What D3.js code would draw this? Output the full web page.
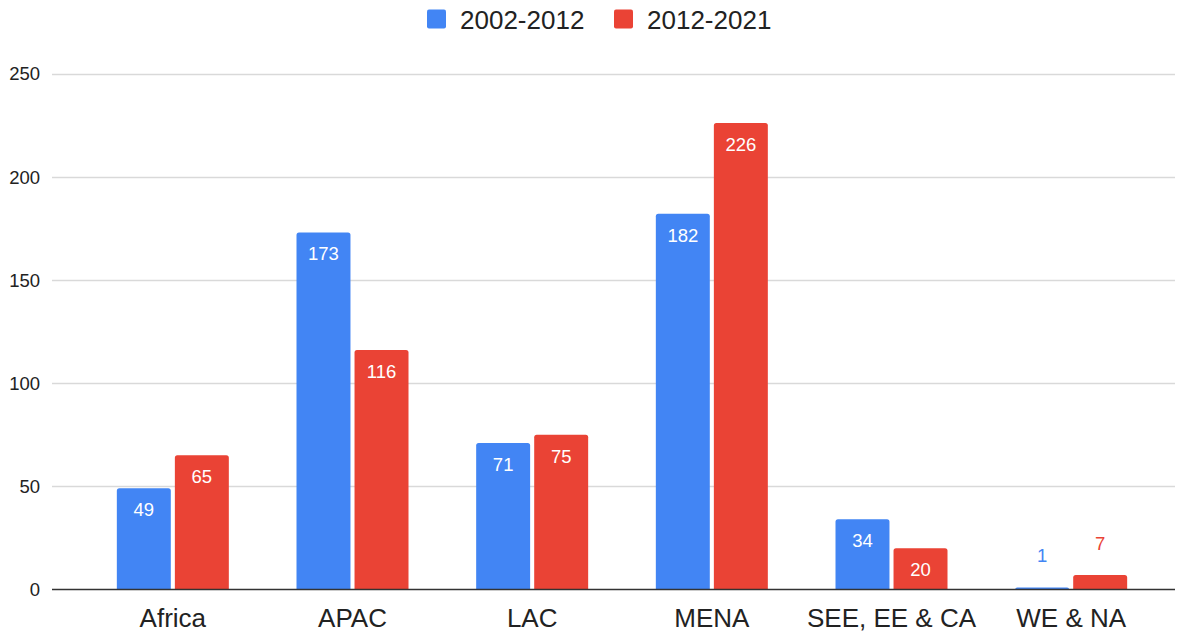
<!DOCTYPE html>
<html><head><meta charset="utf-8">
<script src="https://cdn.jsdelivr.net/npm/d3@7"></script>
<style>body{margin:0;background:#fff}svg{display:block}text{font-family:"Liberation Sans",Arial,sans-serif}</style>
</head><body><svg id="c" width="1189" height="635"></svg>
<script>
const categories = ["Africa","APAC","LAC","MENA","SEE, EE & CA","WE & NA"];
const seriesNames = ["2002-2012","2012-2021"];
const values2002_2012 = [49,173,71,182,34,1];
const values2012_2021 = [65,116,75,226,20,7];
const yTicks = [0,50,100,150,200,250];
const colors = ["#4285F4","#EA4335"];

const svg = d3.select("#c");
const y = d3.scaleLinear().domain([0,250]).range([589.5,73.5]);
const x0 = d3.scaleBand().domain(categories).range([83,1161]).paddingInner(0).paddingOuter(0);
const x1 = d3.scaleBand().domain(seriesNames).range([0,112]).paddingInner(0.07);
const groupOff = (x0.bandwidth()-112)/2;

// grid
svg.append("g").selectAll("line").data(yTicks.filter(d=>d>0)).join("line")
  .attr("x1",52).attr("x2",1175).attr("y1",d=>Math.round(y(d))+0.5).attr("y2",d=>Math.round(y(d))+0.5)
  .attr("stroke","#d9d9d9").attr("stroke-width",1.3);
// y labels
const yAxis = d3.axisLeft(y).tickValues(yTicks).tickSize(0).tickPadding(0);
const ga = svg.append("g").attr("transform","translate(40,0)").call(yAxis);
ga.select(".domain").remove();
ga.selectAll("text").attr("font-size",18.5).attr("fill","#222").attr("font-family","'Liberation Sans',Arial,sans-serif").attr("dy","0.35em");

const data = categories.map((c,i)=>({c, vals:[values2002_2012[i],values2012_2021[i]]}));
const g = svg.append("g").selectAll("g").data(data).join("g")
  .attr("transform",d=>`translate(${x0(d.c)+groupOff},0)`);
g.selectAll("path").data(d=>d.vals.map((v,j)=>({v,s:seriesNames[j],j}))).join("path")
  .attr("fill",d=>colors[d.j])
  .attr("d",d=>{
    const xL=x1(d.s), w=x1.bandwidth(), top=y(d.v), bot=y(0), r=Math.min(2.5,(bot-top));
    return `M${xL},${bot}V${top+r}Q${xL},${top} ${xL+r},${top}H${xL+w-r}Q${xL+w},${top} ${xL+w},${top+r}V${bot}Z`;
  });
g.selectAll("text").data(d=>d.vals.map((v,j)=>({v,s:seriesNames[j],j}))).join("text")
  .attr("x",d=>x1(d.s)+x1.bandwidth()/2)
  .attr("y",d=> (y(0)-y(d.v) > 30) ? y(d.v)+28 : y(d.v)-25.5)
  .attr("text-anchor","middle").attr("font-size",18.5).attr("font-family","Roboto,Arial,sans-serif")
  .attr("fill",d=> (y(0)-y(d.v) > 30) ? "#fff" : colors[d.j])
  .text(d=>d.v);

// zero axis
svg.append("line").attr("x1",52).attr("x2",1175).attr("y1",y(0)).attr("y2",y(0)).attr("stroke","#333").attr("stroke-width",1.3);
// x labels
const xAxis = d3.axisBottom(x0).tickSize(0).tickPadding(0);
const gx = svg.append("g").attr("transform","translate(0,627)").call(xAxis);
gx.select(".domain").remove();
gx.selectAll("text").attr("font-size",26).attr("fill","#222").attr("font-family","'Liberation Sans',Arial,sans-serif").attr("dy",0);

// legend
const leg = svg.append("g");
const legX=[427,614];
seriesNames.forEach((s,i)=>{
  leg.append("rect").attr("x",legX[i]).attr("y",9.5).attr("width",19).attr("height",19).attr("rx",2).attr("fill",colors[i]);
  leg.append("text").attr("x",legX[i]+33).attr("y",29).attr("font-size",26).attr("fill","#222").text(s);
});
</script></body></html>
